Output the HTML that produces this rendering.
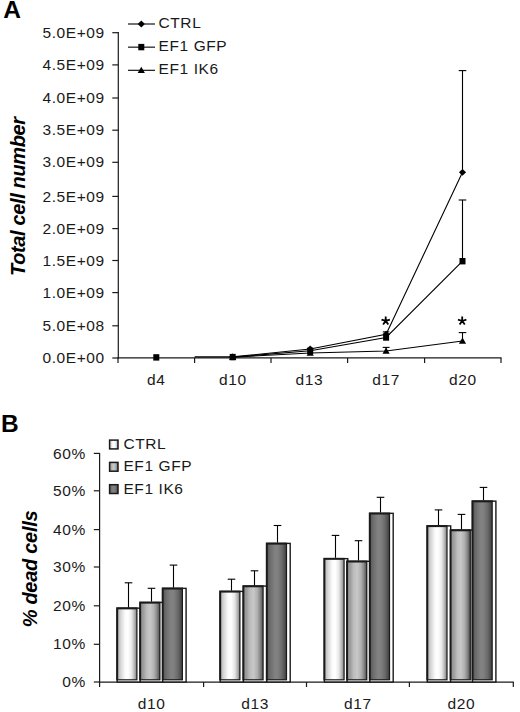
<!DOCTYPE html>
<html><head><meta charset="utf-8"><style>
html,body{margin:0;padding:0;background:#fff;}
body{width:520px;height:712px;overflow:hidden;}
svg{display:block;}
.t{font-family:"Liberation Sans", sans-serif;font-size:15.5px;fill:#1a1a1a;letter-spacing:0.6px;}
.lab{font-family:"Liberation Sans", sans-serif;font-size:24.5px;font-weight:bold;fill:#000;}
.yt{font-family:"Liberation Sans", sans-serif;font-size:20px;font-weight:bold;font-style:italic;fill:#000;}
.ast{font-family:"Liberation Sans", sans-serif;font-size:20px;font-weight:bold;fill:#000;}
.ax{stroke:#1a1a1a;stroke-width:1.2;}
.sl{stroke:#000;stroke-width:1.1;}
</style></head><body>
<svg width="520" height="712" viewBox="0 0 520 712">
<defs>
<linearGradient id="gC" x1="0" x2="1" y1="0" y2="0">
<stop offset="0" stop-color="#bcbcbc"/><stop offset="0.18" stop-color="#dcdcdc"/><stop offset="0.38" stop-color="#fbfbfb"/><stop offset="0.55" stop-color="#ffffff"/><stop offset="0.75" stop-color="#e6e6e6"/><stop offset="0.9" stop-color="#b4b4b4"/><stop offset="1" stop-color="#8a8a8a"/>
</linearGradient>
<linearGradient id="gG" x1="0" x2="1" y1="0" y2="0">
<stop offset="0" stop-color="#969696"/><stop offset="0.12" stop-color="#9c9c9c"/><stop offset="0.3" stop-color="#bcbcbc"/><stop offset="0.5" stop-color="#c8c8c8"/><stop offset="0.7" stop-color="#b2b2b2"/><stop offset="0.85" stop-color="#8e8e8e"/><stop offset="1" stop-color="#5a5a5a"/>
</linearGradient>
<linearGradient id="gI" x1="0" x2="1" y1="0" y2="0">
<stop offset="0" stop-color="#5c5c5c"/><stop offset="0.15" stop-color="#6e6e6e"/><stop offset="0.4" stop-color="#828282"/><stop offset="0.55" stop-color="#808080"/><stop offset="0.78" stop-color="#6a6a6a"/><stop offset="1" stop-color="#444444"/>
</linearGradient>
</defs>
<rect width="520" height="712" fill="#fff"/>
<text x="104.8" y="363.10" text-anchor="end" class="t">0.0E+00</text>
<line x1="112.3" y1="358.00" x2="118.5" y2="358.00" class="ax"/>
<text x="104.8" y="330.90" text-anchor="end" class="t">5.0E+08</text>
<line x1="112.3" y1="325.80" x2="118.5" y2="325.80" class="ax"/>
<text x="104.8" y="297.70" text-anchor="end" class="t">1.0E+09</text>
<line x1="112.3" y1="292.60" x2="118.5" y2="292.60" class="ax"/>
<text x="104.8" y="265.60" text-anchor="end" class="t">1.5E+09</text>
<line x1="112.3" y1="260.50" x2="118.5" y2="260.50" class="ax"/>
<text x="104.8" y="233.70" text-anchor="end" class="t">2.0E+09</text>
<line x1="112.3" y1="228.60" x2="118.5" y2="228.60" class="ax"/>
<text x="104.8" y="201.50" text-anchor="end" class="t">2.5E+09</text>
<line x1="112.3" y1="196.40" x2="118.5" y2="196.40" class="ax"/>
<text x="104.8" y="167.40" text-anchor="end" class="t">3.0E+09</text>
<line x1="112.3" y1="162.30" x2="118.5" y2="162.30" class="ax"/>
<text x="104.8" y="135.30" text-anchor="end" class="t">3.5E+09</text>
<line x1="112.3" y1="130.20" x2="118.5" y2="130.20" class="ax"/>
<text x="104.8" y="103.10" text-anchor="end" class="t">4.0E+09</text>
<line x1="112.3" y1="98.00" x2="118.5" y2="98.00" class="ax"/>
<text x="104.8" y="70.00" text-anchor="end" class="t">4.5E+09</text>
<line x1="112.3" y1="64.90" x2="118.5" y2="64.90" class="ax"/>
<text x="104.8" y="37.80" text-anchor="end" class="t">5.0E+09</text>
<line x1="112.3" y1="32.70" x2="118.5" y2="32.70" class="ax"/>
<line x1="118.3" y1="32.1" x2="118.3" y2="358.5" class="ax" stroke-width="1.4"/>
<line x1="117.6" y1="357.9" x2="501.6" y2="357.9" class="ax" stroke-width="1.4"/>
<line x1="118" y1="358" x2="118" y2="363" class="ax" stroke-width="1.3"/>
<line x1="194.6" y1="358" x2="194.6" y2="363" class="ax" stroke-width="1.3"/>
<line x1="271" y1="358" x2="271" y2="363" class="ax" stroke-width="1.3"/>
<line x1="347.6" y1="358" x2="347.6" y2="363" class="ax" stroke-width="1.3"/>
<line x1="424.6" y1="358" x2="424.6" y2="363" class="ax" stroke-width="1.3"/>
<line x1="501" y1="358" x2="501" y2="363" class="ax" stroke-width="1.3"/>
<text x="156.3" y="385.1" text-anchor="middle" class="t">d4</text>
<text x="232.8" y="385.1" text-anchor="middle" class="t">d10</text>
<text x="309.3" y="385.1" text-anchor="middle" class="t">d13</text>
<text x="386.1" y="385.1" text-anchor="middle" class="t">d17</text>
<text x="462.8" y="385.1" text-anchor="middle" class="t">d20</text>
<line x1="462.5" y1="172.3" x2="462.5" y2="70.6" class="sl"/>
<line x1="458.7" y1="70.6" x2="466.3" y2="70.6" class="sl" stroke-width="1.7"/>
<line x1="462.5" y1="261.2" x2="462.5" y2="200.0" class="sl"/>
<line x1="458.7" y1="200.0" x2="466.3" y2="200.0" class="sl" stroke-width="1.7"/>
<line x1="462.5" y1="341.0" x2="462.5" y2="332.6" class="sl"/>
<line x1="458.7" y1="332.6" x2="466.3" y2="332.6" class="sl" stroke-width="1.7"/>
<line x1="386.1" y1="334.2" x2="386.1" y2="331.9" class="sl"/>
<line x1="382.8" y1="331.9" x2="389.4" y2="331.9" class="sl" stroke-width="1.7"/>
<line x1="386.1" y1="351.0" x2="386.1" y2="347.4" class="sl"/>
<line x1="382.7" y1="347.4" x2="389.5" y2="347.4" class="sl" stroke-width="1.7"/>
<line x1="194.6" y1="356.9" x2="232.7" y2="356.9" class="sl" stroke-width="1.3"/>
<polyline points="232.7,356.9 310.2,349.0 386.1,334.2 462.5,172.3" class="sl" fill="none"/>
<polyline points="232.7,357.1 310.2,350.8 386.1,337.5 462.5,261.2" class="sl" fill="none"/>
<polyline points="232.7,357.2 310.2,353.0 386.1,351.0 462.5,341.0" class="sl" fill="none"/>
<path d="M232.7 353.6L236.3 359.9L229.1 359.9Z" fill="#000"/>
<path d="M310.2 349.4L313.8 355.7L306.6 355.7Z" fill="#000"/>
<path d="M386.1 347.4L389.7 353.7L382.5 353.7Z" fill="#000"/>
<path d="M462.5 337.4L466.1 343.7L458.9 343.7Z" fill="#000"/>
<path d="M232.7 353.5L236.3 356.9L232.7 360.3L229.1 356.9Z" fill="#000"/>
<path d="M310.2 345.6L313.8 349.0L310.2 352.4L306.6 349.0Z" fill="#000"/>
<path d="M386.1 330.8L389.7 334.2L386.1 337.6L382.5 334.2Z" fill="#000"/>
<path d="M462.5 168.9L466.1 172.3L462.5 175.7L458.9 172.3Z" fill="#000"/>
<rect x="229.7" y="353.9" width="6.0" height="6.4" fill="#000"/>
<rect x="307.2" y="347.6" width="6.0" height="6.4" fill="#000"/>
<rect x="383.1" y="334.3" width="6.0" height="6.4" fill="#000"/>
<rect x="459.5" y="258.0" width="6.0" height="6.4" fill="#000"/>
<rect x="153.3" y="354.2" width="6.0" height="6.4" fill="#000"/>
<path d="M385.70 320.90L385.70 316.50M385.70 320.90L389.88 319.54M385.70 320.90L381.52 319.54M385.70 320.90L383.11 324.46M385.70 320.90L388.29 324.46" stroke="#000" stroke-width="1.8" fill="none" stroke-linecap="butt"/>
<path d="M462.20 321.00L462.20 316.60M462.20 321.00L466.38 319.64M462.20 321.00L458.02 319.64M462.20 321.00L459.61 324.56M462.20 321.00L464.79 324.56" stroke="#000" stroke-width="1.8" fill="none" stroke-linecap="butt"/>
<line x1="128" y1="24.00" x2="155" y2="24.00" class="sl" stroke-width="1.6"/>
<path d="M141.3 20.6L144.9 24.0L141.3 27.4L137.7 24.0Z" fill="#000"/>
<text x="158.5" y="27.70" class="t">CTRL</text>
<line x1="128" y1="47.15" x2="155" y2="47.15" class="sl" stroke-width="1.6"/>
<rect x="138.3" y="43.9" width="6.0" height="6.4" fill="#000"/>
<text x="158.5" y="50.85" class="t">EF1 GFP</text>
<line x1="128" y1="70.30" x2="155" y2="70.30" class="sl" stroke-width="1.6"/>
<path d="M141.3 66.7L144.9 73.0L137.7 73.0Z" fill="#000"/>
<text x="158.5" y="74.00" class="t">EF1 IK6</text>
<text x="3.3" y="18.0" class="lab">A</text>
<text transform="translate(24.8,196.6) rotate(-90)" text-anchor="middle" class="yt" letter-spacing="-0.36">Total cell number</text>
<text x="85.8" y="687.10" text-anchor="end" class="t">0%</text>
<line x1="93.8" y1="682.00" x2="100" y2="682.00" class="ax"/>
<text x="85.8" y="649.40" text-anchor="end" class="t">10%</text>
<line x1="93.8" y1="644.30" x2="100" y2="644.30" class="ax"/>
<text x="85.8" y="610.90" text-anchor="end" class="t">20%</text>
<line x1="93.8" y1="605.80" x2="100" y2="605.80" class="ax"/>
<text x="85.8" y="572.10" text-anchor="end" class="t">30%</text>
<line x1="93.8" y1="567.00" x2="100" y2="567.00" class="ax"/>
<text x="85.8" y="534.70" text-anchor="end" class="t">40%</text>
<line x1="93.8" y1="529.60" x2="100" y2="529.60" class="ax"/>
<text x="85.8" y="495.90" text-anchor="end" class="t">50%</text>
<line x1="93.8" y1="490.80" x2="100" y2="490.80" class="ax"/>
<text x="85.8" y="458.50" text-anchor="end" class="t">60%</text>
<line x1="93.8" y1="453.40" x2="100" y2="453.40" class="ax"/>
<line x1="99.6" y1="452.9" x2="99.6" y2="687" class="ax" stroke-width="1.4"/>
<line x1="99" y1="682.2" x2="513.8" y2="682.2" class="ax" stroke-width="1.5"/>
<line x1="203.6" y1="682" x2="203.6" y2="687" class="ax"/>
<line x1="306.5" y1="682" x2="306.5" y2="687" class="ax"/>
<line x1="409.4" y1="682" x2="409.4" y2="687" class="ax"/>
<line x1="513.3" y1="682" x2="513.3" y2="687" class="ax"/>
<text x="151.6" y="708.6" text-anchor="middle" class="t">d10</text>
<text x="255.1" y="708.6" text-anchor="middle" class="t">d13</text>
<text x="357.9" y="708.6" text-anchor="middle" class="t">d17</text>
<text x="461.3" y="708.6" text-anchor="middle" class="t">d20</text>
<rect x="117.20" y="608.16" width="23.40" height="73.84" fill="#fff" stroke="#1a1a1a" stroke-width="1.4"/>
<rect x="116.20" y="607.36" width="21.3" height="73.04" fill="#1a1a1a"/>
<rect x="118.20" y="609.36" width="18.1" height="69.84" fill="url(#gC)"/>
<line x1="128.5" y1="607.4" x2="128.5" y2="582.8" class="sl" stroke-width="1.5"/>
<line x1="124.7" y1="582.8" x2="132.3" y2="582.8" class="sl" stroke-width="1.7"/>
<rect x="140.20" y="602.44" width="23.40" height="79.56" fill="#fff" stroke="#1a1a1a" stroke-width="1.4"/>
<rect x="139.20" y="601.64" width="21.3" height="78.76" fill="#1a1a1a"/>
<rect x="141.20" y="603.64" width="18.1" height="75.56" fill="url(#gG)"/>
<line x1="151.5" y1="601.6" x2="151.5" y2="588.3" class="sl" stroke-width="1.5"/>
<line x1="147.7" y1="588.3" x2="155.3" y2="588.3" class="sl" stroke-width="1.7"/>
<rect x="162.70" y="588.35" width="23.40" height="93.65" fill="#fff" stroke="#1a1a1a" stroke-width="1.4"/>
<rect x="161.70" y="587.55" width="21.3" height="92.85" fill="#1a1a1a"/>
<rect x="163.70" y="589.55" width="18.1" height="89.65" fill="url(#gI)"/>
<line x1="173.5" y1="587.6" x2="173.5" y2="565.1" class="sl" stroke-width="1.5"/>
<line x1="169.7" y1="565.1" x2="177.3" y2="565.1" class="sl" stroke-width="1.7"/>
<rect x="220.20" y="591.40" width="23.40" height="90.60" fill="#fff" stroke="#1a1a1a" stroke-width="1.4"/>
<rect x="219.20" y="590.60" width="21.3" height="89.80" fill="#1a1a1a"/>
<rect x="221.20" y="592.60" width="18.1" height="86.60" fill="url(#gC)"/>
<line x1="231.5" y1="590.6" x2="231.5" y2="579.2" class="sl" stroke-width="1.5"/>
<line x1="227.7" y1="579.2" x2="235.3" y2="579.2" class="sl" stroke-width="1.7"/>
<rect x="243.40" y="586.07" width="23.40" height="95.93" fill="#fff" stroke="#1a1a1a" stroke-width="1.4"/>
<rect x="242.40" y="585.27" width="21.3" height="95.13" fill="#1a1a1a"/>
<rect x="244.40" y="587.27" width="18.1" height="91.93" fill="url(#gG)"/>
<line x1="254.5" y1="585.3" x2="254.5" y2="570.8" class="sl" stroke-width="1.5"/>
<line x1="250.7" y1="570.8" x2="258.3" y2="570.8" class="sl" stroke-width="1.7"/>
<rect x="266.80" y="543.41" width="23.40" height="138.58" fill="#fff" stroke="#1a1a1a" stroke-width="1.4"/>
<rect x="265.80" y="542.62" width="21.3" height="137.78" fill="#1a1a1a"/>
<rect x="267.80" y="544.62" width="18.1" height="134.58" fill="url(#gI)"/>
<line x1="277.5" y1="542.6" x2="277.5" y2="525.5" class="sl" stroke-width="1.5"/>
<line x1="273.7" y1="525.5" x2="281.3" y2="525.5" class="sl" stroke-width="1.7"/>
<rect x="324.40" y="558.65" width="23.40" height="123.35" fill="#fff" stroke="#1a1a1a" stroke-width="1.4"/>
<rect x="323.40" y="557.85" width="21.3" height="122.55" fill="#1a1a1a"/>
<rect x="325.40" y="559.85" width="18.1" height="119.35" fill="url(#gC)"/>
<line x1="335.5" y1="557.8" x2="335.5" y2="535.4" class="sl" stroke-width="1.5"/>
<line x1="331.7" y1="535.4" x2="339.3" y2="535.4" class="sl" stroke-width="1.7"/>
<rect x="347.10" y="561.31" width="23.40" height="120.69" fill="#fff" stroke="#1a1a1a" stroke-width="1.4"/>
<rect x="346.10" y="560.51" width="21.3" height="119.89" fill="#1a1a1a"/>
<rect x="348.10" y="562.51" width="18.1" height="116.69" fill="url(#gG)"/>
<line x1="358.5" y1="560.5" x2="358.5" y2="540.7" class="sl" stroke-width="1.5"/>
<line x1="354.7" y1="540.7" x2="362.3" y2="540.7" class="sl" stroke-width="1.7"/>
<rect x="369.80" y="513.33" width="23.40" height="168.67" fill="#fff" stroke="#1a1a1a" stroke-width="1.4"/>
<rect x="368.80" y="512.53" width="21.3" height="167.87" fill="#1a1a1a"/>
<rect x="370.80" y="514.53" width="18.1" height="164.67" fill="url(#gI)"/>
<line x1="380.5" y1="512.5" x2="380.5" y2="497.3" class="sl" stroke-width="1.5"/>
<line x1="376.7" y1="497.3" x2="384.3" y2="497.3" class="sl" stroke-width="1.7"/>
<rect x="427.30" y="525.90" width="23.40" height="156.10" fill="#fff" stroke="#1a1a1a" stroke-width="1.4"/>
<rect x="426.30" y="525.10" width="21.3" height="155.30" fill="#1a1a1a"/>
<rect x="428.30" y="527.10" width="18.1" height="152.10" fill="url(#gC)"/>
<line x1="438.5" y1="525.1" x2="438.5" y2="509.9" class="sl" stroke-width="1.5"/>
<line x1="434.7" y1="509.9" x2="442.3" y2="509.9" class="sl" stroke-width="1.7"/>
<rect x="450.60" y="530.09" width="23.40" height="151.91" fill="#fff" stroke="#1a1a1a" stroke-width="1.4"/>
<rect x="449.60" y="529.29" width="21.3" height="151.11" fill="#1a1a1a"/>
<rect x="451.60" y="531.29" width="18.1" height="147.91" fill="url(#gG)"/>
<line x1="461.5" y1="529.3" x2="461.5" y2="514.4" class="sl" stroke-width="1.5"/>
<line x1="457.7" y1="514.4" x2="465.3" y2="514.4" class="sl" stroke-width="1.7"/>
<rect x="472.50" y="501.14" width="23.40" height="180.86" fill="#fff" stroke="#1a1a1a" stroke-width="1.4"/>
<rect x="471.50" y="500.34" width="21.3" height="180.06" fill="#1a1a1a"/>
<rect x="473.50" y="502.34" width="18.1" height="176.86" fill="url(#gI)"/>
<line x1="483.5" y1="500.3" x2="483.5" y2="487.4" class="sl" stroke-width="1.5"/>
<line x1="479.7" y1="487.4" x2="487.3" y2="487.4" class="sl" stroke-width="1.7"/>
<rect x="109.6" y="440.1" width="8.4" height="8.8" fill="url(#gC)" stroke="#1a1a1a" stroke-width="1.5"/>
<text x="123.4" y="449.10" class="t">CTRL</text>
<rect x="109.6" y="462.4" width="8.4" height="8.8" fill="url(#gG)" stroke="#1a1a1a" stroke-width="1.5"/>
<text x="123.4" y="471.40" class="t">EF1 GFP</text>
<rect x="109.6" y="484.7" width="8.4" height="8.8" fill="url(#gI)" stroke="#1a1a1a" stroke-width="1.5"/>
<text x="123.4" y="493.70" class="t">EF1 IK6</text>
<text x="0.9" y="431.5" class="lab">B</text>
<text transform="translate(37.2,569.0) rotate(-90)" text-anchor="middle" class="yt" letter-spacing="-0.28">% dead cells</text>
</svg>
</body></html>
